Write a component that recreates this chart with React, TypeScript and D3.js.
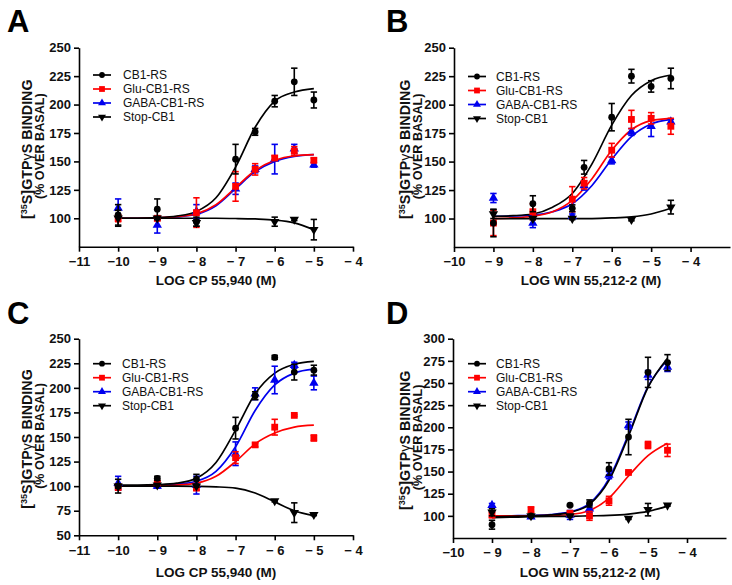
import React, { useRef, useEffect } from 'react';
import * as d3 from 'd3';

const FONT = 'Arial, "Liberation Sans", sans-serif';

const seriesNames = ['CB1-RS', 'Glu-CB1-RS', 'GABA-CB1-RS', 'Stop-CB1'];
const seriesColors = ['#000000', '#ff0000', '#0000ee', '#000000'];
const seriesShapes = ['circle', 'square', 'triangle', 'triangleDown'];
// drawing order: blue under red, black on top
const drawOrder = [2, 1, 3, 0];

// ---- panel A : CP 55,940 ----
const dosesA = [-10, -9, -8, -7, -6.5, -6, -5.5, -5];
const cb1MeanA = [103, 108, 97, 152, 176, 203, 220, 204];
const cb1SemA = [9, 9, 4, 13, 3, 5, 12, 7];
const gluMeanA = [100, 100, 105, 128, 143, 153, 159, 151];
const gluSemA = [3, 2, 13, 13, 5, 2, 4, 2];
const gabaMeanA = [109, 94, 106, 126, 143, 152, 161, 147];
const gabaSemA = [8, 7, 6, 5, 3, 13, 4, 2];
const stopDosesA = [-10, -9, -8, -6, -5.5, -5];
const stopMeanA = [100, 100, 96, 97, 99, 90];
const stopSemA = [7, 1, 3, 4, 1, 9];
const fitXA = [-10, -9.5, -9, -8.5, -8, -7.5, -7, -6.5, -6, -5.5, -5];
const cb1FitA = [100, 100, 100.5, 102, 106, 118, 145, 180, 203, 211, 214];
const gluFitA = [100, 100, 100.5, 101.5, 104, 112, 127, 142, 151, 155, 156];
const gabaFitA = [100, 100, 100.3, 101.2, 103.5, 111, 126, 141, 150, 154.5, 156];
const stopFitA = [100, 100, 100, 100, 100, 100, 99.8, 99.4, 98.5, 96, 90];

// ---- panel B : WIN 55,212-2 ----
const dosesB = [-9, -8, -7, -6.7, -6, -5.5, -5, -4.5];
const cb1MeanB = [96, 113, 109, 145, 189, 225, 216, 223];
const cb1SemB = [12, 7, 3, 6, 12, 6, 5, 9];
const gluMeanB = [96, 106, 117, 131, 160, 187, 188, 181];
const gluSemB = [11, 7, 11, 5, 6, 8, 5, 7];
const gabaMeanB = [118, 96, 102, 129, 151, 176, 181, 185];
const gabaSemB = [4, 4, 2, 4, 3, 3, 9, 2];
const stopDosesB = [-9, -8, -7, -5.5, -4.5];
const stopMeanB = [104, 100, 100, 99, 110];
const stopSemB = [4, 1, 1, 1, 6];
const fitXB = [-9, -8.5, -8, -7.5, -7, -6.5, -6, -5.5, -5, -4.5];
const cb1FitB = [102, 102.5, 104, 110, 122, 148, 182, 208, 221, 226];
const gluFitB = [100, 100.5, 102, 106, 116, 135, 160, 178, 186, 188];
const gabaFitB = [102, 102.3, 103, 106, 113, 129, 152, 172, 183, 187];
const stopFitB = [100, 100, 100, 100, 100, 100, 100.5, 101.5, 104, 109];

// ---- panel C : CP 55,940 ----
const dosesC = [-10, -9, -8, -7, -6.5, -6, -5.5, -5];
const cb1MeanC = [100, 108, 107, 159, 192, 231, 216, 218];
const cb1SemC = [7, 2, 5, 11, 4, 2, 8, 5];
const gluMeanC = [99, 103, 98, 129, 142, 160, 172, 149];
const gluSemC = [3, 2, 2, 6, 2, 8, 1, 3];
const gabaMeanC = [103, 100, 101, 133, 194, 208, 223, 205];
const gabaSemC = [7, 2, 9, 12, 6, 14, 3, 7];
const stopDosesC = [-10, -9, -8, -6, -5.5, -5];
const stopMeanC = [100, 101, 100, 85, 73, 71];
const stopSemC = [2, 1, 1, 1, 10, 1];
const fitXC = [-10, -9.5, -9, -8.5, -8, -7.5, -7, -6.5, -6, -5.5, -5];
const cb1FitC = [101, 101, 101.5, 103, 108, 124, 157, 194, 215, 224, 227];
const gluFitC = [100, 100, 100.5, 101, 103, 110, 125, 143, 154, 160, 162];
const gabaFitC = [100, 100, 101, 102, 105, 115, 140, 177, 203, 215, 219];
const stopFitC = [100, 100, 100, 100, 99.8, 99.3, 98, 93, 84, 75, 70];

// ---- panel D : WIN 55,212-2 ----
const dosesD = [-9, -8, -7, -6.5, -6, -5.5, -5, -4.5];
const cb1MeanD = [90, 100, 112, 114, 153, 189, 262, 273];
const cb1SemD = [5, 1, 1, 4, 7, 20, 17, 9];
const gluMeanD = [101, 107, 103, 100, 117, 149, 180, 174];
const gluSemD = [3, 3, 2, 5, 5, 1, 4, 7];
const gabaMeanD = [112, 99, 101, 108, 146, 202, 259, 268];
const gabaSemD = [2, 1, 5, 4, 4, 4, 5, 5];
const stopDosesD = [-9, -8, -7, -5.5, -5, -4.5];
const stopMeanD = [104, 100, 100, 97, 107, 112];
const stopSemD = [4, 1, 1, 1, 7, 1];
const fitXD = [-9, -8.5, -8, -7.5, -7, -6.5, -6, -5.5, -5, -4.5];
const cb1FitD = [99, 99.5, 100, 101, 104, 113, 140, 190, 245, 278];
const gluFitD = [100, 100, 100, 100.5, 101.5, 106, 120, 145, 168, 182];
const gabaFitD = [99.5, 100, 100.5, 101.5, 104.5, 114, 142, 192, 246, 276];
const stopFitD = [98, 98.5, 99, 99.3, 99.5, 100, 100.5, 102, 105, 111];

const xTicksCP = [-11, -10, -9, -8, -7, -6, -5, -4];
const xTicksWIN = [-10, -9, -8, -7, -6, -5, -4];
const yTicks250 = [100, 125, 150, 175, 200, 225, 250];
const yTicksC = [50, 75, 100, 125, 150, 175, 200, 225, 250];
const yTicksD = [100, 125, 150, 175, 200, 225, 250, 275, 300];

const mk = (doses, means, sems, fitX, fitY) => ({ doses, means, sems, fitX, fitY });

const panels = [
  {
    letter: 'A', letterX: 7, letterY: 32,
    left: 79, right: 353, top: 47.7, bottom: 246.7,
    xDomain: [-11, -4], yDomain: [75, 250], xTicks: xTicksCP, yTicks: yTicks250,
    xTitle: 'LOG CP 55,940 (M)', xTitleX: 216, xTitleY: 285, yTitleX: 32,
    legendX: 93, legendTextX: 123, legendY: 75,
    series: [
      mk(dosesA, cb1MeanA, cb1SemA, fitXA, cb1FitA),
      mk(dosesA, gluMeanA, gluSemA, fitXA, gluFitA),
      mk(dosesA, gabaMeanA, gabaSemA, fitXA, gabaFitA),
      mk(stopDosesA, stopMeanA, stopSemA, fitXA, stopFitA),
    ],
  },
  {
    letter: 'B', letterX: 386, letterY: 32,
    left: 454, right: 730, top: 47.7, bottom: 247,
    xDomain: [-10, -3], yDomain: [75, 250], xTicks: xTicksWIN, yTicks: yTicks250,
    xTitle: 'LOG WIN 55,212-2 (M)', xTitleX: 591, xTitleY: 285, yTitleX: 410,
    legendX: 468, legendTextX: 496, legendY: 76.5,
    series: [
      mk(dosesB, cb1MeanB, cb1SemB, fitXB, cb1FitB),
      mk(dosesB, gluMeanB, gluSemB, fitXB, gluFitB),
      mk(dosesB, gabaMeanB, gabaSemB, fitXB, gabaFitB),
      mk(stopDosesB, stopMeanB, stopSemB, fitXB, stopFitB),
    ],
  },
  {
    letter: 'C', letterX: 7, letterY: 324,
    left: 79, right: 353, top: 338.7, bottom: 535.3,
    xDomain: [-11, -4], yDomain: [50, 250], xTicks: xTicksCP, yTicks: yTicksC,
    xTitle: 'LOG CP 55,940 (M)', xTitleX: 216, xTitleY: 577, yTitleX: 32,
    legendX: 93, legendTextX: 122, legendY: 363.7,
    series: [
      mk(dosesC, cb1MeanC, cb1SemC, fitXC, cb1FitC),
      mk(dosesC, gluMeanC, gluSemC, fitXC, gluFitC),
      mk(dosesC, gabaMeanC, gabaSemC, fitXC, gabaFitC),
      mk(stopDosesC, stopMeanC, stopSemC, fitXC, stopFitC),
    ],
  },
  {
    letter: 'D', letterX: 386, letterY: 324,
    left: 453, right: 726, top: 338.7, bottom: 538,
    xDomain: [-10, -3], yDomain: [75, 300], xTicks: xTicksWIN, yTicks: yTicksD,
    xTitle: 'LOG WIN 55,212-2 (M)', xTitleX: 590, xTitleY: 577, yTitleX: 410,
    legendX: 468, legendTextX: 496, legendY: 363.7,
    series: [
      mk(dosesD, cb1MeanD, cb1SemD, fitXD, cb1FitD),
      mk(dosesD, gluMeanD, gluSemD, fitXD, gluFitD),
      mk(dosesD, gabaMeanD, gabaSemD, fitXD, gabaFitD),
      mk(stopDosesD, stopMeanD, stopSemD, fitXD, stopFitD),
    ],
  },
];

const tickFmt = (d: number) => {
  if (d >= 0) return String(d);
  return Math.abs(d) >= 10 ? `\u2212${-d}` : `\u2212 ${-d}`;
};

const Marker = ({ shape, x, y, color, k = 1 }) => {
  if (shape === 'circle') return <circle cx={x} cy={y} r={3.4 * k} fill={color} />;
  if (shape === 'square') {
    const h = 3.4 * k;
    return <rect x={x - h} y={y - h} width={2 * h} height={2 * h} fill={color} />;
  }
  const path = d3.symbol(d3.symbolTriangle, 38 * k * k)();
  return (
    <path
      d={path}
      fill={color}
      transform={`translate(${x},${y})${shape === 'triangleDown' ? ' rotate(180)' : ''}`}
    />
  );
};

const Panel = ({ cfg }) => {
  const xAxisRef = useRef(null);
  const yAxisRef = useRef(null);

  const x = d3.scaleLinear().domain(cfg.xDomain).range([cfg.left, cfg.right]);
  const y = d3.scaleLinear().domain(cfg.yDomain).range([cfg.bottom, cfg.top]);

  useEffect(() => {
    const xAxis = d3.axisBottom(x).tickValues(cfg.xTicks).tickSize(5).tickSizeOuter(0).tickPadding(5).tickFormat(tickFmt);
    const yAxis = d3.axisLeft(y).tickValues(cfg.yTicks).tickSize(5).tickSizeOuter(0).tickPadding(3).tickFormat(d3.format('d'));
    [
      [xAxisRef.current, xAxis],
      [yAxisRef.current, yAxis],
    ].forEach(([node, axis]) => {
      const g = d3.select(node);
      g.call(axis);
      g.attr('font-family', FONT).attr('font-size', 13).attr('font-weight', 'bold');
      g.select('.domain').attr('stroke-width', 1.6);
      g.selectAll('.tick line').attr('stroke-width', 1.6);
      g.selectAll('.tick text').attr('fill', '#111');
    });
  }, []);

  const line = d3
    .line()
    .x((d) => x(d[0]))
    .y((d) => y(d[1]))
    .curve(d3.curveMonotoneX);

  const yMid = (cfg.top + cfg.bottom) / 2;

  return (
    <g>
      <text x={cfg.letterX} y={cfg.letterY} fontFamily={FONT} fontWeight="bold" fontSize={31}>
        {cfg.letter}
      </text>
      <g ref={xAxisRef} transform={`translate(0,${cfg.bottom})`} />
      <g ref={yAxisRef} transform={`translate(${cfg.left},0)`} />

      <text x={cfg.xTitleX} y={cfg.xTitleY} textAnchor="middle" fontFamily={FONT} fontWeight="bold" fontSize={13.5} fill="#111">
        {cfg.xTitle}
      </text>
      <g transform={`translate(${cfg.yTitleX},${yMid}) rotate(-90)`} fontFamily={FONT} fontWeight="bold" fill="#111">
        <text textAnchor="middle" fontSize={14.3} x={-2}>
          <tspan>[</tspan>
          <tspan fontSize={9} dy={-5.5}>35</tspan>
          <tspan dy={5.5}>S]GTP</tspan>
          <tspan fontWeight="normal">γ</tspan>
          <tspan>S BINDING</tspan>
        </text>
        <text textAnchor="middle" fontSize={12.6} y={11.5} x={1}>
          (% OVER BASAL)
        </text>
      </g>

      {drawOrder.map((si) => {
        const s = cfg.series[si];
        const pts = s.fitX.map((v, i) => [v, s.fitY[i]]);
        return <path key={`fit${si}`} d={line(pts)} fill="none" stroke={seriesColors[si]} strokeWidth={1.7} />;
      })}

      {drawOrder.map((si) => {
        const s = cfg.series[si];
        const c = seriesColors[si];
        return (
          <g key={`pts${si}`}>
            {s.doses.map((d, i) => {
              const px = x(d);
              const lo = y(s.means[i] - s.sems[i]);
              const hi = y(s.means[i] + s.sems[i]);
              return (
                <g key={i}>
                  <line x1={px} x2={px} y1={lo} y2={hi} stroke={c} strokeWidth={1.6} />
                  <line x1={px - 3.2} x2={px + 3.2} y1={lo} y2={lo} stroke={c} strokeWidth={1.6} />
                  <line x1={px - 3.2} x2={px + 3.2} y1={hi} y2={hi} stroke={c} strokeWidth={1.6} />
                  <Marker shape={seriesShapes[si]} x={px} y={y(s.means[i])} color={c} />
                </g>
              );
            })}
          </g>
        );
      })}

      <g fontFamily={FONT} fontSize={12} fill="#111">
        {seriesNames.map((name, i) => {
          const ly = cfg.legendY + i * 14;
          return (
            <g key={name}>
              <line x1={cfg.legendX} x2={cfg.legendX + 18} y1={ly} y2={ly} stroke={seriesColors[i]} strokeWidth={1.7} />
              <Marker shape={seriesShapes[i]} x={cfg.legendX + 9} y={ly} color={seriesColors[i]} k={0.85} />
              <text x={cfg.legendTextX} y={ly} dy="0.36em">
                {name}
              </text>
            </g>
          );
        })}
      </g>
    </g>
  );
};

const App = () => (
  <svg width={732} height={585} style={{ position: 'absolute', left: 0, top: 0, background: '#fff' }}>
    {panels.map((p) => (
      <Panel key={p.letter} cfg={p} />
    ))}
  </svg>
);

export default App;
